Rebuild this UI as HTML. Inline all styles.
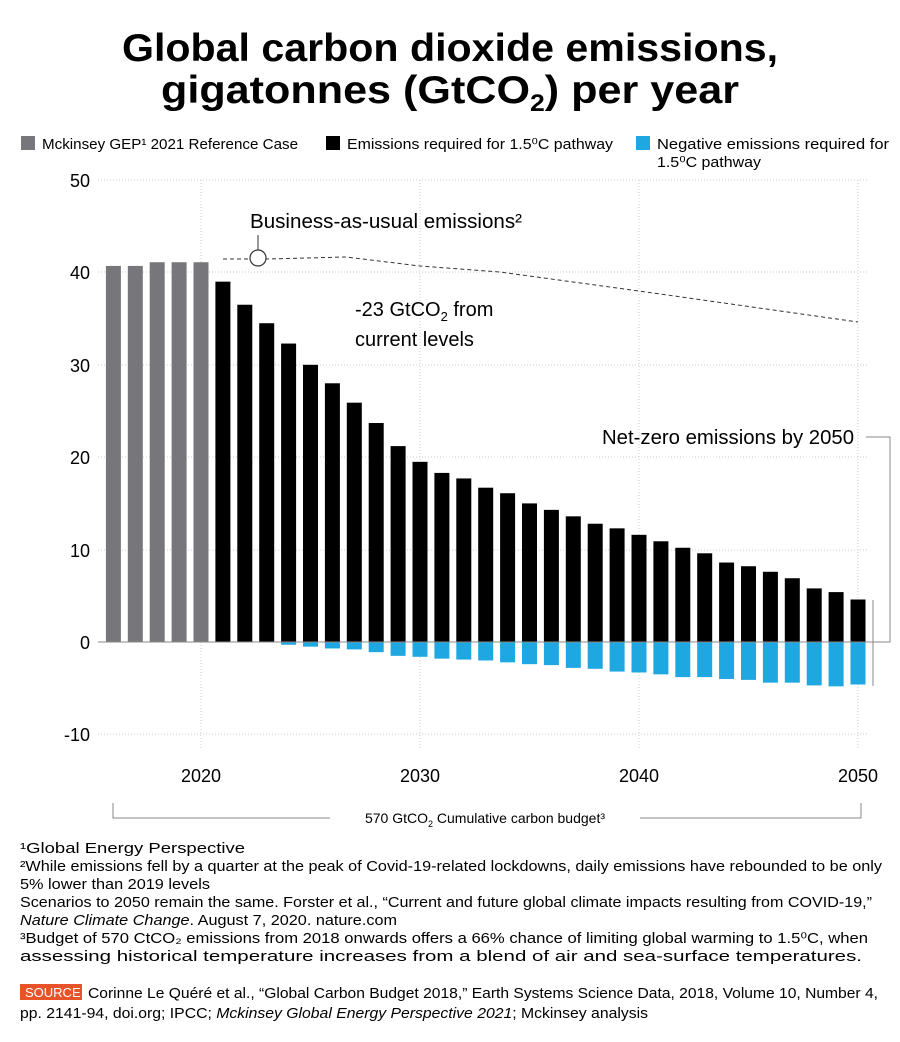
<!DOCTYPE html>
<html><head><meta charset="utf-8"><style>
html,body{margin:0;padding:0;background:#fff;}
svg{display:block;font-family:"Liberation Sans",sans-serif;}
</style></head><body>
<svg width="900" height="1042" viewBox="0 0 900 1042" xmlns="http://www.w3.org/2000/svg">
<text x="450" y="61" text-anchor="middle" font-size="39" font-weight="bold" textLength="656" lengthAdjust="spacingAndGlyphs">Global carbon dioxide emissions,</text>
<text x="450" y="103" text-anchor="middle" font-size="39" font-weight="bold" textLength="578" lengthAdjust="spacingAndGlyphs">gigatonnes (GtCO<tspan font-size="24" dy="8">2</tspan><tspan dy="-8">) per year</tspan></text>
<rect x="21" y="136" width="14" height="14" fill="#77777b"/>
<text x="42" y="149" font-size="15" textLength="256" lengthAdjust="spacingAndGlyphs">Mckinsey GEP¹ 2021 Reference Case</text>
<rect x="326" y="136" width="14" height="14" fill="#000"/>
<text x="347" y="149" font-size="15" textLength="266" lengthAdjust="spacingAndGlyphs">Emissions required for 1.5⁰C pathway</text>
<rect x="636" y="136" width="14" height="14" fill="#1ea7e1"/>
<text x="657" y="149" font-size="15" textLength="232" lengthAdjust="spacingAndGlyphs">Negative emissions required for</text>
<text x="657" y="167" font-size="15" textLength="104" lengthAdjust="spacingAndGlyphs">1.5⁰C pathway</text>
<g stroke="#ccc" stroke-width="1" stroke-dasharray="1,2">
<line x1="98" y1="180" x2="868" y2="180"/>
<line x1="98" y1="272" x2="868" y2="272"/>
<line x1="98" y1="365" x2="868" y2="365"/>
<line x1="98" y1="457" x2="868" y2="457"/>
<line x1="98" y1="550" x2="868" y2="550"/>
<line x1="98" y1="734" x2="868" y2="734"/>
<line x1="201" y1="180" x2="201" y2="750"/>
<line x1="420" y1="180" x2="420" y2="750"/>
<line x1="639" y1="180" x2="639" y2="750"/>
<line x1="858" y1="180" x2="858" y2="750"/>
</g>
<g font-size="18" text-anchor="end">
<text x="90" y="187">50</text><text x="90" y="279">40</text><text x="90" y="372">30</text>
<text x="90" y="464">20</text><text x="90" y="557">10</text><text x="90" y="649">0</text><text x="90" y="741">-10</text>
</g>
<g font-size="18" text-anchor="middle">
<text x="201" y="782">2020</text><text x="420" y="782">2030</text><text x="639" y="782">2040</text><text x="858" y="782">2050</text>
</g>
<g id="bars"></g>
<line x1="98" y1="642" x2="868" y2="642" stroke="#888" stroke-width="1"/>
<polyline points="223,259 248,259 268,259 346,257 420,266 500,272 639,291 858,322" fill="none" stroke="#333" stroke-width="1" stroke-dasharray="4,3"/>
<circle cx="258" cy="258" r="8" fill="#fff" stroke="#333" stroke-width="1.2"/>
<line x1="258" y1="235" x2="258" y2="250" stroke="#333"/>
<text x="250" y="228" font-size="20" textLength="272" lengthAdjust="spacingAndGlyphs">Business-as-usual emissions²</text>
<text x="355" y="316" font-size="20">-23 GtCO<tspan font-size="13" dy="5">2</tspan><tspan dy="-5"> from</tspan></text>
<text x="355" y="346" font-size="20">current levels</text>
<text x="602" y="444" font-size="20" textLength="252" lengthAdjust="spacingAndGlyphs">Net-zero emissions by 2050</text>
<polyline points="866,437 890,437 890,642 868,642" fill="none" stroke="#888" stroke-width="1"/>
<line x1="873" y1="600" x2="873" y2="686" stroke="#888" stroke-width="1"/>
<polyline points="113,803 113,818 330,818" fill="none" stroke="#888"/>
<polyline points="640,818 861,818 861,803" fill="none" stroke="#888"/>
<text x="485" y="823" font-size="14" text-anchor="middle">570 GtCO<tspan font-size="9" dy="4">2</tspan><tspan dy="-4"> Cumulative carbon budget³</tspan></text>
<g font-size="14.5">
<text x="20" y="853" textLength="225" lengthAdjust="spacingAndGlyphs">¹Global Energy Perspective</text>
<text x="20" y="871" textLength="862" lengthAdjust="spacingAndGlyphs">²While emissions fell by a quarter at the peak of Covid-19-related lockdowns, daily emissions have rebounded to be only</text>
<text x="20" y="889" textLength="190" lengthAdjust="spacingAndGlyphs">5% lower than 2019 levels</text>
<text x="20" y="907" textLength="852" lengthAdjust="spacingAndGlyphs">Scenarios to 2050 remain the same. Forster et al., “Current and future global climate impacts resulting from COVID-19,”</text>
<text x="20" y="925" textLength="377" lengthAdjust="spacingAndGlyphs"><tspan font-style="italic">Nature Climate Change</tspan>. August 7, 2020. nature.com</text>
<text x="20" y="943" textLength="848" lengthAdjust="spacingAndGlyphs">³Budget of 570 CtCO₂ emissions from 2018 onwards offers a 66% chance of limiting global warming to 1.5⁰C, when</text>
<text x="20" y="961" textLength="842" lengthAdjust="spacingAndGlyphs">assessing historical temperature increases from a blend of air and sea-surface temperatures.</text>
<rect x="20" y="984" width="62" height="16" fill="#e8542a"/>
<text x="25" y="997" font-size="13" fill="#fff">SOURCE</text>
<text x="88" y="998" textLength="790" lengthAdjust="spacingAndGlyphs">Corinne Le Quéré et al., “Global Carbon Budget 2018,” Earth Systems Science Data, 2018, Volume 10, Number 4,</text>
<text x="20" y="1018" textLength="628" lengthAdjust="spacingAndGlyphs">pp. 2141-94, doi.org; IPCC; <tspan font-style="italic">Mckinsey Global Energy Perspective 2021</tspan>; Mckinsey analysis</text>
</g>
<script>
(function(){
var g=document.getElementById('bars'),ns="http://www.w3.org/2000/svg";
function bar(yr,v,c){var x=201+(yr-2020)*21.9-7.5;var y0=642,h=v*9.24;var r=document.createElementNS(ns,'rect');
r.setAttribute('x',x);r.setAttribute('width',15);r.setAttribute('y',h>=0?y0-h:y0);r.setAttribute('height',Math.abs(h));r.setAttribute('fill',c);g.appendChild(r);}
var gray=[40.7,40.7,41.1,41.1,41.1];gray.forEach(function(v,i){bar(2016+i,v,'#77777b');});
var blk=[39,36.5,34.5,32.3,30,28,25.9,23.7,21.2,19.5,18.3,17.7,16.7,16.1,15.0,14.3,13.6,12.8,12.3,11.6,10.9,10.2,9.6,8.6,8.2,7.6,6.9,5.8,5.4,4.6];
blk.forEach(function(v,i){bar(2021+i,v,'#000');});
var neg=[0.3,0.5,0.7,0.8,1.1,1.5,1.6,1.8,1.9,2.0,2.2,2.4,2.5,2.8,2.9,3.2,3.3,3.5,3.8,3.8,4.0,4.1,4.4,4.4,4.7,4.8,4.6];
neg.forEach(function(v,i){bar(2024+i,-v,'#1ea7e1');});
})();
</script>
</svg>
</body></html>
